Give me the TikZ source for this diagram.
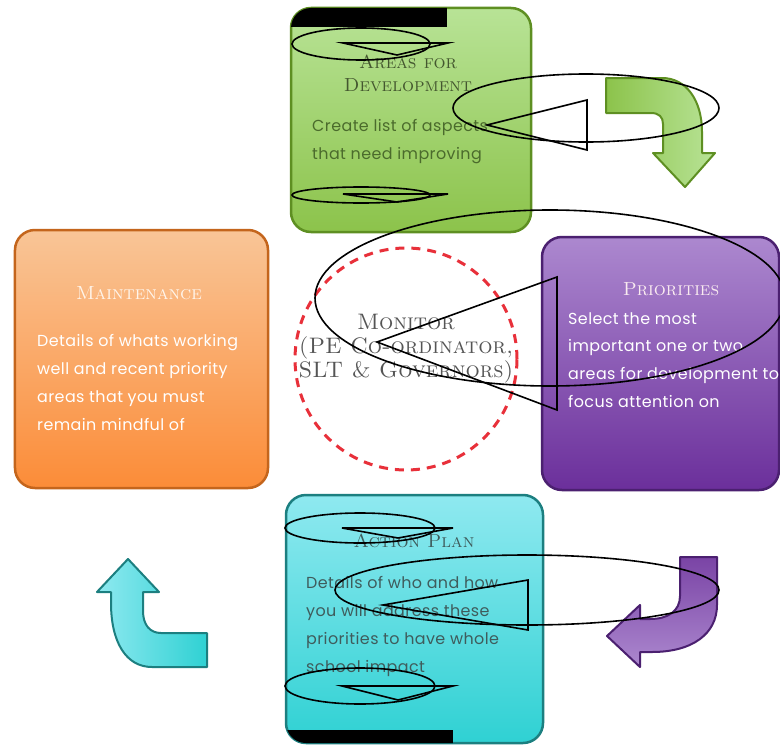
\documentclass[tikz,border=0pt]{standalone}
\usepackage{fontspec}
\newfontfamily\bodyfont[LetterSpace=2.6]{Poppins}
\definecolor{greentop}{HTML}{B8E396}
\definecolor{greenbot}{HTML}{8CC34B}
\definecolor{greenedge}{HTML}{5E8F22}
\definecolor{greentitle}{HTML}{44572F}
\definecolor{greentext}{HTML}{4B6B2C}
\definecolor{orangetop}{HTML}{F9C597}
\definecolor{orangebot}{HTML}{FB8C38}
\definecolor{orangeedge}{HTML}{C4651C}
\definecolor{purpletop}{HTML}{AC88CF}
\definecolor{purplebot}{HTML}{6B2F9B}
\definecolor{purpleedge}{HTML}{4B2070}
\definecolor{cyantop}{HTML}{8FE9F0}
\definecolor{cyanbot}{HTML}{2FD1D3}
\definecolor{cyanedge}{HTML}{1C7F80}
\definecolor{cyantext}{HTML}{3F5C5C}
\definecolor{monitorred}{HTML}{E8303A}
\definecolor{monitortext}{HTML}{555555}
\begin{document}
\begin{tikzpicture}[x=1bp,y=-1bp,
  panel/.style={rectangle, rounded corners=20bp, line width=2.5bp, inner sep=0pt},
  arrowshape/.style={line width=2bp, line join=round},
  art/.style={draw=black, line width=1.6bp},
  titletext/.style={inner sep=0pt, align=center, font=\fontsize{19}{23}\selectfont\scshape},
  bodytext/.style={inner sep=0pt, anchor=north west, align=left, font=\bodyfont\fontsize{16}{28}\selectfont}]
\useasboundingbox (0,0) rectangle (780,745);
\fill[white] (0,0) rectangle (780,745);

% panels
\node[panel, draw=greenedge, top color=greentop, bottom color=greenbot,
      minimum width=240bp, minimum height=224bp] (areas) at (411,120) {};
\node[panel, draw=orangeedge, top color=orangetop, bottom color=orangebot,
      minimum width=253bp, minimum height=258bp] (maint) at (141.5,359) {};
\node[panel, draw=purpleedge, top color=purpletop, bottom color=purplebot,
      minimum width=237bp, minimum height=253bp] (prio) at (660.5,363.5) {};
\node[panel, draw=cyanedge, top color=cyantop, bottom color=cyanbot,
      minimum width=257bp, minimum height=248bp] (plan) at (414.5,619) {};

% black bands
\begin{scope}
  \clip[rounded corners=20bp] (291,8) rectangle (531,232);
  \fill[black] (289,6) rectangle (447,27);
\end{scope}
\begin{scope}
  \clip[rounded corners=20bp] (286,495) rectangle (543,743);
  \fill[black] (284,730) rectangle (453,746);
\end{scope}

% monitor
\node[circle, draw=monitorred, line width=3bp, dash pattern=on 9bp off 7bp,
      minimum size=222bp, inner sep=0pt] (monitor) at (406,359) {};
\node[titletext, text=monitortext, font=\fontsize{22.5}{24}\selectfont\scshape] (monitorlabel) at (406,349)
  {Monitor\\(PE Co-ordinator,\\SLT \& Governors)};

% titles
\node[titletext, text=greentitle] (areastitle) at (408,73.5) {Areas for\\Development};
\node[titletext, text=white!92!orange] (mainttitle) at (139,293) {Maintenance};
\node[titletext, text=white!92!purple] (priotitle) at (671,289) {Priorities};
\node[titletext, text=cyantext] (plantitle) at (414,541) {Action Plan};

% body texts
\node[bodytext, text=greentext] (areasbody) at (312,119)
  {Create list of aspects\\that need improving};
\node[bodytext, text=white] (maintbody) at (37,334)
  {Details of whats working\\well and recent priority\\areas that you must\\remain mindful of};
\node[bodytext, text=white] (priobody) at (568,312)
  {Select the most\\important one or two\\areas for development to\\focus attention on};
\node[bodytext, text=cyantext] (planbody) at (306,576)
  {Details of who and how\\you will address these\\priorities to have whole\\school impact};

% curved arrows
\draw[arrowshape, draw=greenedge, left color=greenbot, right color=greentop]
  (606,78) -- (662,78) .. controls (686,78) and (702,100) .. (702,132)
  -- (702,153) -- (715,153) -- (685,187) -- (653,153) -- (663,153) -- (663,124)
  .. controls (663,117) and (659,113) .. (651,113) -- (606,113) -- cycle;
\draw[arrowshape, draw=purpleedge, top color=purplebot!90!white, bottom color=purpletop]
  (680,557) -- (717,557) -- (717,605) .. controls (717,634) and (692,652) .. (652,652)
  -- (640,652) -- (640,667) -- (607,636) -- (640,605) -- (640,619) -- (650,619)
  .. controls (668,619) and (680,611) .. (680,596) -- cycle;
\draw[arrowshape, draw=cyanedge, left color=cyantop, right color=cyanbot]
  (128,559) -- (159,592) -- (143,592) -- (143,611) .. controls (143,625) and (150,633) .. (161,633)
  -- (207,633) -- (207,667) -- (152,667) .. controls (126,667) and (111,642) .. (111,603)
  -- (111,592) -- (97,592) -- cycle;

% overlay marks
\draw[art] (361,44) ellipse [x radius=69bp, y radius=16bp];
\draw[art] (343,43) -- (448,43) -- (397,55) -- cycle;
\draw[art] (361,195) ellipse [x radius=69bp, y radius=8bp];
\draw[art] (343,194) -- (448,194) -- (397,202) -- cycle;
\draw[art] (586,108) ellipse [x radius=133bp, y radius=34bp];
\draw[art] (487,125) -- (587,100) -- (587,150) -- cycle;
\draw[art] (550,298) ellipse [x radius=235bp, y radius=88bp];
\draw[art] (377,342) -- (557,277) -- (557,410) -- cycle;
\draw[art] (360,528) ellipse [x radius=75bp, y radius=15bp];
\draw[art] (342,528) -- (453,528) -- (398,538) -- cycle;
\draw[art] (360,686) ellipse [x radius=75bp, y radius=18bp];
\draw[art] (342,686) -- (453,686) -- (398,700) -- cycle;
\draw[art] (527,590) ellipse [x radius=192bp, y radius=35bp];
\draw[art] (383,605) -- (528,580) -- (528,630) -- cycle;
\end{tikzpicture}
\end{document}
